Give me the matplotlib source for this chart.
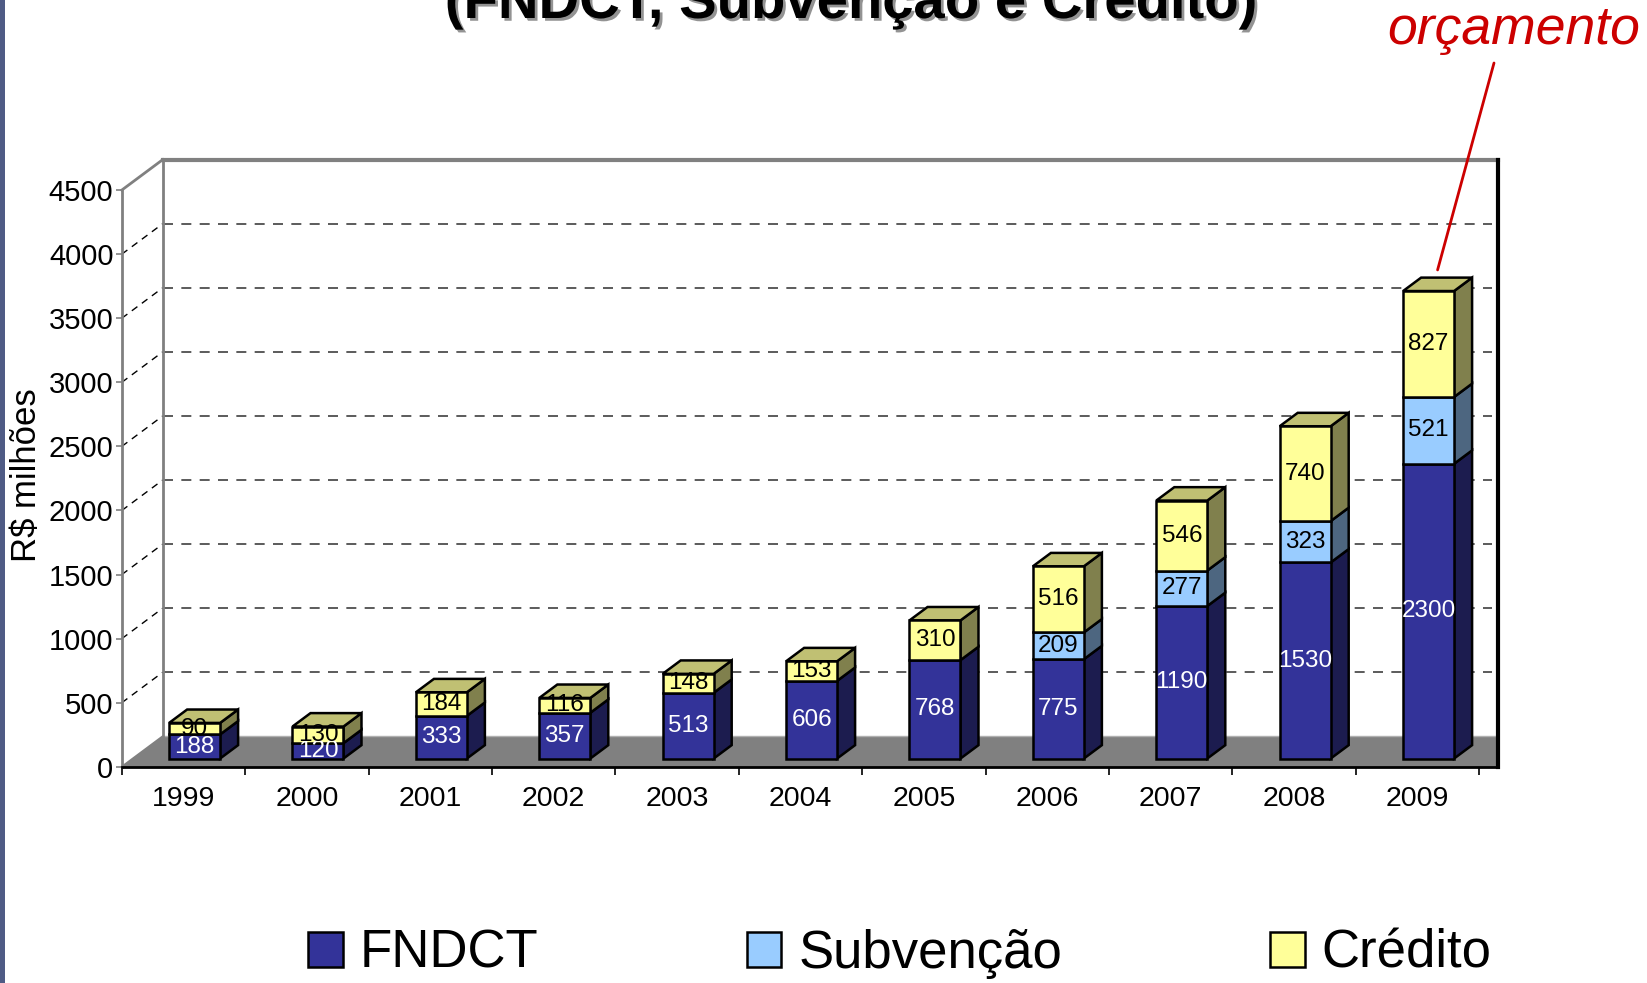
import matplotlib.pyplot as plt
import matplotlib.patheffects as pe
from matplotlib.patches import Polygon, Rectangle
import numpy as np

plt.rcParams['font.family'] = ['Liberation Sans', 'DejaVu Sans']

# data (R$ milhões)
years = ['1999', '2000', '2001', '2002', '2003', '2004', '2005', '2006', '2007', '2008', '2009']
fndct = [188, 120, 333, 357, 513, 606, 768, 775, 1190, 1530, 2300]
subvencao = [0, 0, 0, 0, 0, 0, 0, 209, 277, 323, 521]
credito = [90, 130, 184, 116, 148, 153, 310, 516, 546, 740, 827]
series_names = ['FNDCT', 'Subvenção', 'Crédito']
yticks = np.arange(0, 4501, 500)

# colours: front, side, top, label
styles = [
    ('#333399', '#1c1c4f', '#26266e', 'white'),
    ('#99ccff', '#4d6680', '#7399bf', 'black'),
    ('#ffff99', '#80804d', '#c0c073', 'black'),
]

W, H = 1647, 983
fig = plt.figure(figsize=(W / 100, H / 100), dpi=100)
ax = fig.add_axes([0, 0, 1, 1])

# pixel layout of the fake 3d frame
x0_px, x_step = 121.8, 123.4      # front y axis, px per category
y0_px, y_scale = 766.8, 0.12816   # baseline (px from top), px per unit
ax.set_xlim(-0.5 - x0_px / x_step, -0.5 + (W - x0_px) / x_step)
ax.set_ylim(-(H - y0_px) / y_scale, y0_px / y_scale)

dx = 41 / x_step        # depth offset of back wall
dy = 30.5 / y_scale
xr = -0.5 + (1498 - x0_px) / x_step   # right clip of the plot area
ymax = yticks[-1]
f0, f1 = 0.27, 0.71     # bar depth range
bw = 0.413

# floor
ax.add_patch(Polygon([(-0.5, 0), (xr, 0), (xr, dy), (-0.5 + dx, dy)],
                     closed=True, facecolor='#808080', edgecolor='none', zorder=1))
ax.plot([-0.5 + dx, xr], [dy, dy], color='#b0b0b0', lw=1, zorder=1)

# walls and gridlines
for v in yticks[1:-1]:
    ax.plot([-0.5, -0.5 + dx], [v, v + dy], color='black', lw=1, ls=(0, (5, 4)), zorder=1)
    ax.plot([-0.5 + dx, xr - 0.05], [v + dy, v + dy], color='#404040', lw=1.2,
            ls=(0, (6, 5)), zorder=1)
ax.plot([-0.5, -0.5 + dx], [ymax, ymax + dy], color='#808080', lw=2, zorder=2)
ax.plot([-0.5, -0.5 + dx], [0, dy], color='#808080', lw=1.5, zorder=2)
ax.plot([-0.5 + dx, -0.5 + dx], [dy, ymax + dy], color='#808080', lw=2, zorder=2)
ax.plot([-0.5 + dx, xr], [ymax + dy, ymax + dy], color='#808080', lw=3, zorder=2)
ax.plot([xr, xr], [0, ymax + dy], color='black', lw=3, zorder=2)

# bars
x = np.arange(len(years))
values = [np.array(fndct), np.array(subvencao), np.array(credito)]
bottoms = np.zeros(len(years))
totals = sum(values)
ddx, ddy = (f1 - f0) * dx, (f1 - f0) * dy
handles = []
for k, (vals, (front, side, top, tc)) in enumerate(zip(values, styles)):
    m = vals > 0
    fx = x[m] + f0 * dx
    fy = bottoms[m] + f0 * dy
    bars = ax.bar(fx, vals[m], bottom=fy, width=bw, color=front, edgecolor='black',
                  lw=1.8, zorder=4, label=series_names[k])
    handles.append(bars)
    for xi, yi, v, tot, b in zip(fx, fy, vals[m], totals[m], bottoms[m]):
        xe = xi + bw / 2
        ax.add_patch(Polygon([(xe, yi), (xe + ddx, yi + ddy), (xe + ddx, yi + v + ddy), (xe, yi + v)],
                             closed=True, facecolor=side, edgecolor='black', lw=1.8, zorder=3))
        if b + v == tot:
            xs = xi - bw / 2
            ax.add_patch(Polygon([(xs, yi + v), (xe, yi + v), (xe + ddx, yi + v + ddy),
                                  (xs + ddx, yi + v + ddy)],
                                 closed=True, facecolor=top, edgecolor='black', lw=1.8, zorder=3))
        ax.text(xi, yi + v / 2, str(v), ha='center', va='center', fontsize=17.5,
                color=tc, zorder=5)
    bottoms = bottoms + vals

# axes
for s in ['top', 'right']:
    ax.spines[s].set_visible(False)
ax.spines['left'].set_position(('data', -0.5))
ax.spines['left'].set_bounds(0, ymax)
ax.spines['left'].set_color('#808080')
ax.spines['left'].set_linewidth(2)
ax.spines['bottom'].set_position(('data', 0))
ax.spines['bottom'].set_bounds(-0.5, xr)
ax.spines['bottom'].set_linewidth(2)
ax.spines['left'].set_zorder(2)
ax.spines['bottom'].set_zorder(2)

ax.set_yticks(yticks)
ax.set_yticklabels([str(v) for v in yticks])
ax.tick_params(axis='y', length=4, width=1.2, color='#808080', pad=2, labelsize=21)
ax.set_xticks(np.arange(-0.5, len(years), 1))
ax.set_xticklabels([])
ax.set_xticks(x, minor=True)
ax.set_xticklabels(years, minor=True)
ax.tick_params(axis='x', which='major', length=6, width=1.2, color='black')
ax.tick_params(axis='x', which='minor', length=0, pad=14, labelsize=20.5)

fig.text(26 / W, 1 - 475 / H, 'R$ milhões', rotation=90, ha='center', va='center', fontsize=25)

# title (cut off at the top) and note
fig.text(851 / W, 1 - 18 / H, '(FNDCT, Subvenção e Crédito)', ha='center', va='baseline',
         fontsize=40.5, fontweight='bold',
         path_effects=[pe.SimplePatchShadow(offset=(2, -2), shadow_rgbFace='#666666', alpha=0.7),
                       pe.Normal()])
fig.text(1514 / W, 1 - 30 / H, 'orçamento', ha='center', va='center', fontsize=38.5,
         style='italic', color='#cc0000')
ax.annotate('', xy=(10 + (f0 + f1) / 2 * dx, totals[-1] + f1 * dy + 60),
            xytext=(1494, H - 63), textcoords='figure pixels',
            arrowprops=dict(arrowstyle='-', color='#cc0000', lw=2, shrinkA=0, shrinkB=0))

# legend
leg = ax.legend(handles=handles, loc='center', bbox_to_anchor=(900 / W, 1 - 954 / H),
                bbox_transform=fig.transFigure, ncol=3, frameon=False, fontsize=38,
                handlelength=0.66, handleheight=0.66, handletextpad=0.32, columnspacing=3.94)

# slide border
fig.patches.append(Rectangle((0, 0), 5 / W, 1, transform=fig.transFigure,
                             facecolor='#4f5b85', edgecolor='none'))

fig.savefig('out.png', dpi=100)
